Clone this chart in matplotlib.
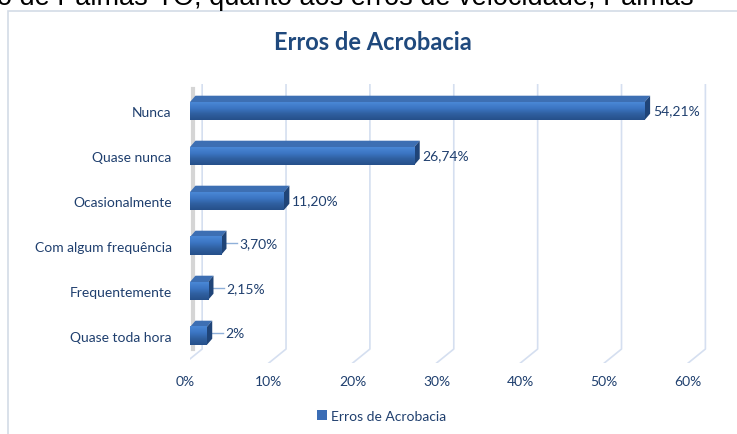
import numpy as np
import matplotlib
matplotlib.use('Agg')
import matplotlib.pyplot as plt
from matplotlib.patches import Polygon, Rectangle, Patch

categories = ['Nunca', 'Quase nunca', 'Ocasionalmente', 'Com algum frequência',
              'Frequentemente', 'Quase toda hora']
values = [54.21, 26.74, 11.20, 3.70, 2.15, 2.0]
value_labels = ['54,21%', '26,74%', '11,20%', '3,70%', '2,15%', '2%']
ticks = [0, 10, 20, 30, 40, 50, 60]
tick_labels = ['0%', '10%', '20%', '30%', '40%', '50%', '60%']
title = 'Erros de Acrobacia'
series_name = 'Erros de Acrobacia'
doc_text = 'o de Palmas-TO, quanto aos erros de velocidade, Palmas'

navy = '#1f3f6e'
grid_c = '#d5dff0'
plt.rcParams['font.family'] = ['Lato', 'DejaVu Sans']

fig = plt.figure(figsize=(7.37, 4.35), dpi=100)
W, H = 737, 435
# plot area in pixels: x 190..710, y 85..364
ax = fig.add_axes([190 / W, 1 - 364 / H, 520 / W, 279 / H])
ax.set_xlim(0, 62)
ax.set_ylim(5.6, -0.6)
ax.axis('off')

# frame of the chart and cut text of the document above
fig.patches.append(Rectangle((8 / W, -0.05), 1.1, 1 - 12 / H + 0.05,
                             transform=fig.transFigure, fill=False,
                             edgecolor='#d3dbe6', lw=1.2))
fig.text(-0.004, 1 - 5 / H, doc_text, fontsize=19.5, family='Liberation Sans',
         color='black', ha='left', va='baseline')

# 3d-ish grid: back wall lines + slanted floor lines
back_dx = 1.45
front_dx = -0.6
floor_back = 5.29
floor_front = 5.6
for t in ticks:
    ax.plot([t + back_dx, t + back_dx, t + front_dx],
            [-0.6, floor_back, floor_front], color=grid_c, lw=1.2, zorder=1)
# left wall
ax.plot([front_dx, front_dx], [-0.4, floor_front], color=grid_c, lw=1.2, zorder=1)
ax.plot([0.4, 0.4], [-0.5, floor_back], color='#c4c4c4', lw=3, alpha=0.7, zorder=1)

# bars with a bit of depth
h = 0.4
dx, dy = 0.65, 0.14
grad = np.linspace(0, 1, 50).reshape(-1, 1)
cmap = matplotlib.colors.LinearSegmentedColormap.from_list(
    'bar', ['#4a88d6', '#3c76c4', '#2f5f9f', '#26508a'])
for i, v in enumerate(values):
    y0, y1 = i - h / 2, i + h / 2
    top = Polygon([[0, y0], [v, y0], [v + dx, y0 - dy], [dx, y0 - dy]],
                  closed=True, facecolor='#3d6fb3', edgecolor='none', zorder=3)
    side = Polygon([[v, y0], [v + dx, y0 - dy], [v + dx, y1 - dy], [v, y1]],
                   closed=True, facecolor='#1f4478', edgecolor='none', zorder=3)
    ax.add_patch(top)
    ax.add_patch(side)
    ax.imshow(grad, extent=[0, v, y1, y0], aspect='auto', cmap=cmap,
              interpolation='bilinear', zorder=4)
    if v < 5:
        ax.plot([v + dx, v + dx + 1.3], [i - 0.07, i - 0.07], color='#8fb0d9', lw=1, zorder=2)
        ax.text(v + dx + 1.5, i - 0.07, value_labels[i], color=navy, fontsize=10,
                ha='left', va='center')
    else:
        ax.text(v + dx + 0.35, i - 0.02, value_labels[i], color=navy, fontsize=10,
                ha='left', va='center')
ax.set_xlim(0, 62)
ax.set_ylim(5.6, -0.6)

# category labels
for i, c in enumerate(categories):
    ax.text(-2.2, i + 0.03, c, color=navy, fontsize=10, ha='right', va='center')
# tick labels
for t, lab in zip(ticks, tick_labels):
    ax.text(t + front_dx, 6.0, lab, color=navy, fontsize=10, ha='center', va='center')

fig.text(373 / W, 1 - 43 / H, title, fontsize=17, fontweight='bold', color='#1f497d',
         ha='center', va='center')

fig.legend(handles=[Patch(facecolor='#3b6db5', edgecolor='none', label=series_name)],
           loc='center', bbox_to_anchor=(382 / W, 1 - 417 / H), frameon=False,
           fontsize=10, handlelength=0.7, handleheight=0.7, handletextpad=0.3,
           labelcolor=navy)

fig.savefig('out.png', dpi=100)
